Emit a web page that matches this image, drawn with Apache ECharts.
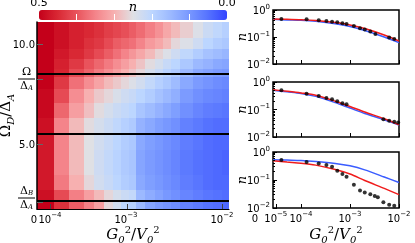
<!DOCTYPE html>
<html><head><meta charset="utf-8">
<script src="https://cdn.jsdelivr.net/npm/echarts@6/dist/echarts.min.js"></script>
<style>html,body{margin:0;padding:0;background:#fff}#c{width:415px;height:243px}</style>
</head><body><div id="c"></div>
<script>
// ================= DATA =================
// Heatmap grid (x in plot-column units, y in Omega_D/Delta_A)
const colEdges = [0, 1.7, 3.2, 4.7, 5.7, 6.7, 7.6, 8.4, 9.2, 9.9, 10.8, 11.8, 12.6, 13.4, 14.3, 15.6, 16.6, 17.6, 18.5, 19.2];
const rowEdges = [11.1, 10.3, 9.75, 9.25, 8.75, 8.35, 7.75, 7.05, 6.3, 5.5, 4.7, 4.1, 3.45, 2.7, 2.15, 1.75];
const heat = [
  [0.50,0.48,0.46,0.45,0.44,0.425,0.415,0.405,0.39,0.375,0.355,0.335,0.31,0.29,0.27,0.245,0.22,0.205,0.19],
  [0.50,0.48,0.46,0.44,0.43,0.41,0.39,0.38,0.37,0.35,0.325,0.31,0.29,0.26,0.245,0.225,0.20,0.185,0.175],
  [0.50,0.47,0.45,0.43,0.41,0.39,0.37,0.35,0.33,0.31,0.29,0.265,0.245,0.225,0.205,0.185,0.165,0.155,0.145],
  [0.50,0.46,0.43,0.40,0.38,0.36,0.34,0.32,0.30,0.28,0.255,0.235,0.215,0.20,0.175,0.15,0.14,0.125,0.12],
  [0.50,0.455,0.41,0.385,0.36,0.34,0.32,0.30,0.28,0.26,0.235,0.215,0.195,0.18,0.15,0.125,0.115,0.105,0.10],
  [0.50,0.43,0.37,0.34,0.315,0.29,0.275,0.26,0.245,0.23,0.21,0.19,0.175,0.155,0.125,0.105,0.095,0.085,0.08],
  [0.49,0.41,0.34,0.30,0.275,0.26,0.24,0.225,0.215,0.20,0.185,0.165,0.15,0.135,0.105,0.09,0.08,0.075,0.07],
  [0.49,0.38,0.32,0.285,0.255,0.235,0.22,0.21,0.20,0.17,0.155,0.14,0.125,0.11,0.09,0.075,0.065,0.06,0.055],
  [0.48,0.35,0.29,0.255,0.235,0.22,0.205,0.19,0.18,0.14,0.125,0.11,0.10,0.09,0.07,0.06,0.05,0.045,0.045],
  [0.47,0.35,0.29,0.25,0.23,0.215,0.20,0.185,0.175,0.125,0.11,0.10,0.09,0.08,0.065,0.055,0.045,0.04,0.04],
  [0.47,0.35,0.29,0.25,0.225,0.21,0.195,0.18,0.17,0.12,0.105,0.095,0.085,0.075,0.06,0.05,0.045,0.04,0.035],
  [0.47,0.35,0.29,0.25,0.225,0.21,0.195,0.18,0.17,0.12,0.105,0.095,0.085,0.075,0.06,0.05,0.045,0.04,0.035],
  [0.47,0.36,0.30,0.26,0.23,0.215,0.20,0.185,0.175,0.125,0.11,0.10,0.09,0.08,0.065,0.055,0.045,0.04,0.04],
  [0.48,0.41,0.355,0.32,0.29,0.26,0.235,0.22,0.21,0.15,0.13,0.115,0.10,0.09,0.075,0.065,0.055,0.05,0.045],
  [0.50,0.44,0.39,0.355,0.32,0.26,0.23,0.20,0.19,0.15,0.12,0.105,0.095,0.085,0.07,0.06,0.05,0.045,0.04]
];
const hLines = [8.5, 5.5, 2.15];
const heatXTickPos = [1.3, 9.07, 18.5];
const heatXLabelPos = [1.3, 8.9, 18.5];
const heatXLabelText = ['10^-4', '10^-3', '10^-2'];
const heatXZeroPos = [0];
const heatYTickPos = [10, 8.25, 5, 2.1];
const heatYLabelPos = [10, 8.25, 5, 2.3];
const heatYLabelText = ['10.0', 'Ω/Δ_A', '5.0', 'Δ_B/Δ_A'];
const cbarTicks = [0.1, 0.2, 0.3, 0.4];
const cbarLabels = [0.5, 0.0];
const cmap = ['#3344ff','#5572ff','#7898ff','#9cb9ff','#bcd6ff','#dfe0e4','#f7b0b0','#f4848a','#e9535c','#d92834','#c4001a'];

// Right panels (x = G0^2/V0^2, y = n)
const curveG = [0, 5e-5, 1e-4, 2e-4, 5e-4, 1e-3, 2e-3, 5e-3, 1e-2];
const red1  = [0.46, 0.45, 0.44, 0.41, 0.345, 0.28, 0.206, 0.119, 0.071];
const blue1 = [0.45, 0.43, 0.415, 0.38, 0.31, 0.245, 0.174, 0.10, 0.062];
const red2  = [0.52, 0.46, 0.40, 0.33, 0.20, 0.128, 0.081, 0.046, 0.028];
const blue2 = [0.50, 0.44, 0.385, 0.30, 0.178, 0.113, 0.072, 0.042, 0.027];
const red3  = [0.49, 0.44, 0.40, 0.34, 0.237, 0.164, 0.096, 0.05, 0.030];
const blue3 = [0.53, 0.515, 0.50, 0.46, 0.39, 0.32, 0.23, 0.128, 0.081];
const dotG1 = [3e-5, 1.3e-4, 2.3e-4, 3.3e-4, 4.3e-4, 5.5e-4, 7e-4, 8.5e-4, 1.2e-3, 1.6e-3, 2e-3, 2.6e-3, 3.3e-3, 6.3e-3, 8e-3];
const dotN1 = [0.46, 0.45, 0.42, 0.39, 0.37, 0.35, 0.32, 0.30, 0.255, 0.21, 0.19, 0.16, 0.13, 0.095, 0.085];
const dotG2 = [3e-5, 1.3e-4, 2.3e-4, 3.3e-4, 4.3e-4, 5.5e-4, 7e-4, 8.5e-4, 4.8e-3, 6.3e-3, 8e-3, 9.6e-3];
const dotN2 = [0.50, 0.37, 0.31, 0.26, 0.235, 0.20, 0.17, 0.155, 0.044, 0.039, 0.036, 0.034];
const dotG3 = [3e-5, 1.3e-4, 2.3e-4, 3.3e-4, 4.3e-4, 5.5e-4, 7e-4, 8.5e-4, 1.2e-3, 1.6e-3, 2e-3, 2.6e-3, 3.2e-3, 3.7e-3, 4.8e-3, 6.3e-3, 8e-3];
const dotN3 = [0.52, 0.44, 0.39, 0.34, 0.30, 0.215, 0.164, 0.13, 0.068, 0.042, 0.036, 0.031, 0.027, 0.024, 0.016, 0.013, 0.012];
const panelXTickG = [1e-5, 1e-4, 1e-3, 1e-2];
const panelXLabelG = [1e-5, 1e-4, 1e-3, 1e-2];
const panelXLabelText = ['10^-5', '10^-4', '10^-3', '10^-2'];
const panelXZeroG = [0];
const xName = 'G_0^2/V_0^2';
const yNameHeat = 'Ω_D/Δ_A';

// ================= HELPERS =================
// symlog x scale: linear below 1e-4, log above
const LIN = 1e-4, LINW = 28 / 49;
const sx = g => g < LIN ? g / LIN * LINW : LINW + Math.log10(g / LIN);
const XMAX = sx(1e-2);

const FS = 'DejaVu Sans', FSR = 'DejaVu Serif';
const rich = {
  t:  {fontFamily: FS, fontSize: 10, color: '#000', lineHeight: 13, verticalAlign: 'bottom'},
  tu: {fontFamily: FS, fontSize: 7, color: '#000', lineHeight: 13, verticalAlign: 'top'},
  z:  {fontFamily: FS, fontSize: 10, color: '#000', lineHeight: 13, verticalAlign: 'bottom', padding: [0, 6, 0, 0]},
  z3: {fontFamily: FS, fontSize: 10, color: '#000', lineHeight: 13, verticalAlign: 'bottom', padding: [0, 36, 0, 0]},
  N:  {fontFamily: FSR, fontSize: 15, color: '#000', lineHeight: 20, verticalAlign: 'middle'},
  Ni: {fontFamily: FSR, fontSize: 15, fontStyle: 'italic', color: '#000', lineHeight: 20, verticalAlign: 'middle'},
  Ns: {fontFamily: FSR, fontSize: 10, fontStyle: 'italic', color: '#000', lineHeight: 20, verticalAlign: 'bottom'},
  Nu: {fontFamily: FSR, fontSize: 10, color: '#000', lineHeight: 20, verticalAlign: 'top'},
  f:  {fontFamily: FSR, fontSize: 11, color: '#000', lineHeight: 12, verticalAlign: 'middle', align: 'center'},
  fi: {fontFamily: FSR, fontSize: 11, fontStyle: 'italic', color: '#000', lineHeight: 12, verticalAlign: 'middle', align: 'center'},
  fs: {fontFamily: FSR, fontSize: 7, fontStyle: 'italic', color: '#000', lineHeight: 12, verticalAlign: 'bottom', align: 'center'},
  bar:{width: 17, height: 1, lineHeight: 2, fontSize: 1, backgroundColor: '#000', align: 'center'}
};
function mt(s, st) {
  let out = '', i = 0;
  while (i < s.length) {
    const c = s[i];
    if (c === '_' || c === '^') {
      let j = i + 1, t = '';
      if (s[j] === '-') { t = '−'; j++; }
      t += s[j]; j++;
      out += '{' + (c === '_' ? st.sub : st.sup) + '|' + t + '}';
      i = j;
    } else {
      out += '{' + (/[A-Za-z]/.test(c) ? st.bi : st.b) + '|' + c + '}';
      i++;
    }
  }
  return out;
}
const tickSt = {b: 't', bi: 't', sub: 'tu', sup: 'tu'};
const nameSt = {b: 'N', bi: 'Ni', sub: 'Ns', sup: 'Nu'};
const fracSt = {b: 'f', bi: 'fi', sub: 'fs', sup: 'fs'};
const idx = (arr, v) => arr.findIndex(a => Math.abs(a - v) < 1e-6);

function heatYLabel(v) {
  const i = idx(heatYLabelPos, v);
  if (i < 0) return '';
  const s = heatYLabelText[i];
  if (s.indexOf('/') >= 0) {
    const [a, b] = s.split('/');
    return mt(a, fracSt) + '\n{bar| }\n' + mt(b, fracSt);
  }
  return '{t|' + s + '}';
}
function heatXLabel(v) {
  const i = idx(heatXLabelPos, v);
  return i < 0 ? '' : mt(heatXLabelText[i], tickSt);
}
function panelXLabel(v) {
  const i = idx(panelXLabelG.map(sx), v);
  return i < 0 ? '' : mt(panelXLabelText[i], tickSt);
}
const logLabel = v => mt('10^' + Math.round(Math.log10(v)), tickSt);

const heatData = [];
heat.forEach((row, r) => row.forEach((v, c) =>
  heatData.push([colEdges[c], colEdges[c + 1], rowEdges[r + 1], rowEdges[r], v])));

const pts = (gs, ns) => gs.map((g, i) => [sx(g), ns[i]]);

// ================= CHART =================
const chart = echarts.init(document.getElementById('c'), null, {renderer: 'canvas', width: 415, height: 243});

const gridBase = {outerBoundsMode: 'none', containLabel: false};
const panelTops = [10, 82, 152], panelH = [54, 55, 56];
const grids = [Object.assign({left: 37, top: 22, width: 192, height: 187}, gridBase)];
panelTops.forEach((t, k) => grids.push(Object.assign({left: 273, top: t, width: 126, height: panelH[k], show: true,
  borderColor: '#000', borderWidth: 1.5, backgroundColor: 'transparent'}, gridBase)));
grids.push(Object.assign({left: 39, top: 10, width: 188, height: 10}, gridBase));

const lblBase = {showMinLabel: true, showMaxLabel: true, hideOverlap: false};
const noMove = {nameMoveOverlap: false};
const xAxes = [Object.assign({
  gridIndex: 0, type: 'value', min: 0, max: 19.2, z: 5,
  axisLine: {show: true, lineStyle: {color: '#000', width: 1.2}},
  axisTick: {show: true, inside: true, length: 5, customValues: heatXTickPos, lineStyle: {color: '#444', width: 1}},
  axisLabel: Object.assign({customValues: heatXLabelPos, formatter: heatXLabel, margin: 3, rich: rich}, lblBase),
  splitLine: {show: false},
  name: mt(xName, nameSt), nameLocation: 'middle', nameGap: 16, nameTextStyle: {rich: rich}
}, noMove)];
const yAxes = [Object.assign({
  gridIndex: 0, type: 'value', min: 1.75, max: 11.1, z: 5,
  axisLine: {show: true, lineStyle: {color: '#000', width: 1.5}},
  axisTick: {show: true, inside: true, length: 6, customValues: heatYTickPos, lineStyle: {color: '#666', width: 1}},
  axisLabel: Object.assign({customValues: heatYLabelPos, formatter: heatYLabel, margin: 2, rich: rich}, lblBase),
  splitLine: {show: false},
  name: mt(yNameHeat, nameSt), nameLocation: 'middle', nameGap: 21, nameRotate: 90, nameTextStyle: {rich: rich}
}, noMove)];
[1, 2, 3].forEach(k => {
  xAxes.push(Object.assign({
    gridIndex: k, type: 'value', min: 0, max: XMAX, z: 5,
    axisLine: {show: false},
    axisTick: {show: true, inside: true, length: 4, customValues: panelXTickG.map(sx), lineStyle: {color: '#000'}},
    axisLabel: k === 3 ? Object.assign({customValues: panelXLabelG.map(sx), formatter: panelXLabel, margin: 3, rich: rich}, lblBase) : {show: false},
    splitLine: {show: false},
    name: k === 3 ? mt(xName, nameSt) : '', nameLocation: 'middle', nameGap: 17, nameTextStyle: {rich: rich}
  }, noMove));
  yAxes.push(Object.assign({
    gridIndex: k, type: 'log', logBase: 10, min: 0.01, max: 1, z: 5,
    axisLine: {show: false},
    axisTick: {show: true, inside: true, length: 4, lineStyle: {color: '#000'}},
    minorTick: {show: true, splitNumber: 9, length: 2, lineStyle: {color: '#000'}},
    axisLabel: Object.assign({formatter: logLabel, margin: 3, rich: rich}, lblBase),
    splitLine: {show: false}, minorSplitLine: {show: false},
    name: 'n', nameLocation: 'middle', nameGap: 24, nameRotate: 90,
    nameTextStyle: {fontFamily: FSR, fontStyle: 'italic', fontSize: 13, color: '#000'}
  }, noMove));
});
// colorbar axes (grid 4)
xAxes.push({
  gridIndex: 4, type: 'value', min: 0, max: 0.5, inverse: true, position: 'bottom', z: 10,
  axisLine: {show: false}, splitLine: {show: false}, axisLabel: {show: false},
  axisTick: {show: true, inside: true, length: 6, customValues: cbarTicks, lineStyle: {color: '#fff', width: 1}}
});
xAxes.push(Object.assign({
  gridIndex: 4, type: 'value', min: 0, max: 0.5, inverse: true, position: 'top', z: 10,
  axisLine: {show: false}, splitLine: {show: false}, axisTick: {show: false},
  axisLabel: Object.assign({customValues: cbarLabels, formatter: v => v.toFixed(1), margin: 1, fontFamily: FS, fontSize: 11, color: '#000'}, lblBase),
  name: 'n', nameLocation: 'middle', nameGap: -4,
  nameTextStyle: {fontFamily: FSR, fontStyle: 'italic', fontSize: 13, color: '#000', lineHeight: 13}
}, noMove));
// extra label-only axes for the "0" (axis-break) labels
xAxes.push({
  gridIndex: 0, type: 'value', min: 0, max: 19.2, position: 'bottom', z: 5,
  axisLine: {show: false}, axisTick: {show: false}, splitLine: {show: false},
  axisLabel: Object.assign({customValues: heatXZeroPos, formatter: () => '{z|0}', margin: 3, rich: rich}, lblBase)
});
xAxes.push({
  gridIndex: 3, type: 'value', min: 0, max: XMAX, position: 'bottom', z: 5,
  axisLine: {show: false}, axisTick: {show: false}, splitLine: {show: false},
  axisLabel: Object.assign({customValues: panelXZeroG.map(sx), formatter: () => '{z3|0}', margin: 3, rich: rich}, lblBase)
});
yAxes.push({gridIndex: 4, type: 'value', show: false});

const series = [{
  type: 'custom', xAxisIndex: 0, yAxisIndex: 0, data: heatData, z: 2,
  encode: {x: [0, 1], y: [2, 3]},
  renderItem: (params, api) => {
    const p0 = api.coord([api.value(0), api.value(2)]);
    const p1 = api.coord([api.value(1), api.value(3)]);
    const x = Math.round(p0[0]), y = Math.round(p1[1]);
    return {type: 'rect', shape: {x: x, y: y, width: Math.round(p1[0]) - x, height: Math.round(p0[1]) - y},
      style: {fill: api.visual('color')}};
  },
  markLine: {silent: true, symbol: 'none', label: {show: false}, animation: false,
    lineStyle: {color: '#000', width: 2, type: 'solid'}, data: hLines.map(v => ({yAxis: v}))}
}];
const panels = [[red1, blue1, dotG1, dotN1], [red2, blue2, dotG2, dotN2], [red3, blue3, dotG3, dotN3]];
panels.forEach(([r, b, dg, dn], k) => {
  const ax = k + 1;
  series.push({type: 'line', xAxisIndex: ax, yAxisIndex: ax, data: pts(curveG, b), smooth: 0.3, symbol: 'none',
    lineStyle: {color: '#3a5cff', width: 1.5}, z: 3});
  series.push({type: 'line', xAxisIndex: ax, yAxisIndex: ax, data: pts(curveG, r), smooth: 0.3, symbol: 'none',
    lineStyle: {color: '#f01c1c', width: 1.5}, z: 4});
  series.push({type: 'scatter', xAxisIndex: ax, yAxisIndex: ax, data: pts(dg, dn), symbol: 'circle', symbolSize: 4,
    itemStyle: {color: '#000'}, z: 5});
});

chart.setOption({
  animation: false,
  backgroundColor: '#fff',
  grid: grids, xAxis: xAxes, yAxis: yAxes,
  visualMap: {type: 'continuous', min: 0, max: 0.5, orient: 'horizontal', inverse: true, left: 39, top: 10,
    itemWidth: 10, itemHeight: 188, padding: 0, calculable: false, hoverLink: false, showLabel: false,
    text: null, seriesIndex: 0, dimension: 4, inRange: {color: cmap}, z: 1},
  series: series
});
</script></body></html>
